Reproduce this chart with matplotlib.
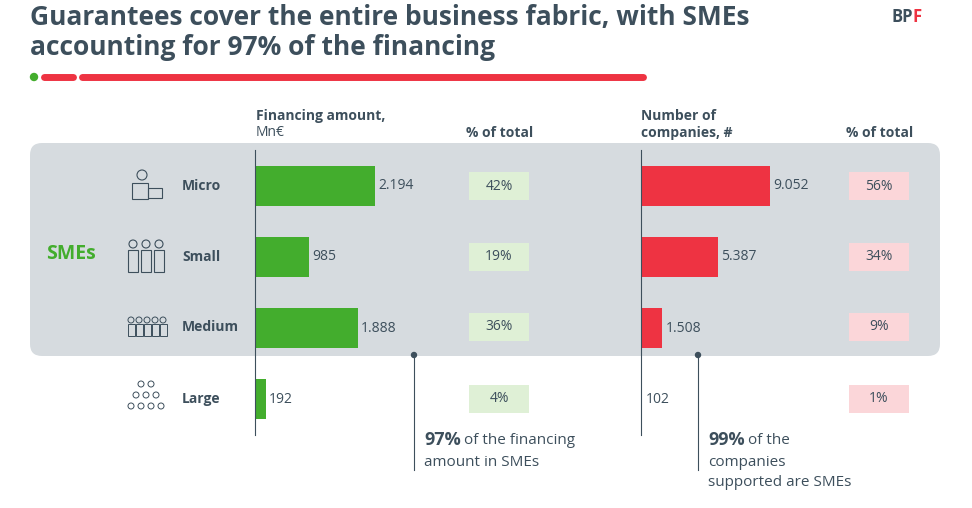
import matplotlib.pyplot as plt
from matplotlib.patches import FancyBboxPatch, Circle, Rectangle

categories = ["Micro", "Small", "Medium", "Large"]
financing = [2194, 985, 1888, 192]
financing_labels = ["2.194", "985", "1.888", "192"]
financing_pct = ["42%", "19%", "36%", "4%"]
companies = [9052, 5387, 1508, 102]
companies_labels = ["9.052", "5.387", "1.508", "102"]
companies_pct = ["56%", "34%", "9%", "1%"]

W, H = 972, 508
DARK = "#3d4f5c"
GREEN = "#43ad2d"
RED = "#ee3342"
plt.rcParams['font.family'] = ['Open Sans', 'DejaVu Sans']

fig = plt.figure(figsize=(W / 100, H / 100), dpi=100)
bg = fig.add_axes([0, 0, 1, 1])
bg.set_xlim(0, W)
bg.set_ylim(H, 0)
bg.axis("off")

bg.text(30, 4, "Guarantees cover the entire business fabric, with SMEs\naccounting for 97% of the financing",
        fontsize=19, fontweight="bold", color=DARK, va="top", linespacing=1.15)
bg.text(913, 17, "BP", fontsize=12, fontweight="bold", color=DARK, ha="right", va="center")
bg.text(912, 17, "F", fontsize=12, fontweight="bold", color=RED, ha="left", va="center")
bg.add_patch(Circle((34, 77), 3.5, color=GREEN))
bg.plot([44, 73], [77, 77], color=RED, lw=5, solid_capstyle="round")
bg.plot([82, 643], [77, 77], color=RED, lw=5, solid_capstyle="round")

bg.add_patch(FancyBboxPatch((30, 143), 910, 213, boxstyle="round,pad=0,rounding_size=12",
                            fc="#d6dbdf", ec="none"))

bg.text(256, 116, "Financing amount,", fontsize=10, fontweight="bold", color=DARK, va="center")
bg.text(256, 133, "Mn€", fontsize=10, color=DARK, va="center")
bg.text(500, 133, "% of total", fontsize=10, fontweight="bold", color=DARK, va="center", ha="center")
bg.text(641, 116, "Number of", fontsize=10, fontweight="bold", color=DARK, va="center")
bg.text(641, 133, "companies, #", fontsize=10, fontweight="bold", color=DARK, va="center")
bg.text(880, 133, "% of total", fontsize=10, fontweight="bold", color=DARK, va="center", ha="center")
bg.text(46, 254, "SMEs", fontsize=14, fontweight="bold", color=GREEN, va="center")

rows = [186, 257, 327, 399]
icons = {"Micro": 1, "Small": 3, "Medium": 5, "Large": 6}
for y, cat, fp, cp in zip(rows, categories, financing_pct, companies_pct):
    bg.text(182, y, cat, fontsize=10, fontweight="bold", color=DARK, va="center")
    bg.add_patch(Rectangle((469, y - 14), 60, 28, fc="#dff0d6", ec="none"))
    bg.text(499, y, fp, fontsize=10, color=DARK, ha="center", va="center")
    bg.add_patch(Rectangle((849, y - 14), 60, 28, fc="#fbd6d9", ec="none"))
    bg.text(879, y, cp, fontsize=10, color=DARK, ha="center", va="center")
    n = icons[cat]
    if n == 1:
        bg.add_patch(Circle((142, y - 11), 5, fc="none", ec=DARK, lw=0.8))
        bg.add_patch(Rectangle((132, y - 3), 16, 16, fc="none", ec=DARK, lw=0.8))
        bg.add_patch(Rectangle((148, y + 2), 14, 10, fc="none", ec=DARK, lw=0.8))
    elif n == 3:
        for k in range(3):
            cx = 133 + k * 13
            bg.add_patch(Circle((cx, y - 13), 4, fc="none", ec=DARK, lw=0.8))
            bg.add_patch(Rectangle((cx - 5, y - 7), 10, 22, fc="none", ec=DARK, lw=0.8))
    elif n == 5:
        for k in range(5):
            cx = 131 + k * 8
            bg.add_patch(Circle((cx, y - 7), 3, fc="none", ec=DARK, lw=0.7))
            bg.add_patch(Rectangle((cx - 3.5, y - 3), 7, 12, fc="none", ec=DARK, lw=0.7))
    else:
        for r, cnt in enumerate([2, 3, 4]):
            for k in range(cnt):
                cx = 146 - (cnt - 1) * 5 + k * 10
                bg.add_patch(Circle((cx, y - 15 + r * 11), 3, fc="none", ec=DARK, lw=0.7))

# callouts
bg.plot([414, 414], [355, 470], color=DARK, lw=0.8)
bg.add_patch(Circle((414, 355), 2.5, color=DARK))
bg.text(424, 440, "97%", fontsize=13, fontweight="bold", color=DARK, va="center")
bg.text(460, 441, " of the financing", fontsize=11, color=DARK, va="center")
bg.text(424, 462, "amount in SMEs", fontsize=11, color=DARK, va="center")
bg.plot([698, 698], [355, 470], color=DARK, lw=0.8)
bg.add_patch(Circle((698, 355), 2.5, color=DARK))
bg.text(708, 440, "99%", fontsize=13, fontweight="bold", color=DARK, va="center")
bg.text(744, 441, " of the", fontsize=11, color=DARK, va="center")
bg.text(708, 462, "companies", fontsize=11, color=DARK, va="center")
bg.text(708, 482, "supported are SMEs", fontsize=11, color=DARK, va="center")


def bar_axes(x0, values, labels, color, px_per_max, vmax):
    ax = fig.add_axes([x0 / W, 1 - 435 / H, 150 / W, 285 / H])
    ax.patch.set_alpha(0)
    ypos = range(len(values))
    ax.barh(ypos, values, height=0.56, color=color)
    ax.set_ylim(3.5, -0.5)
    ax.set_xlim(0, vmax * 150 / px_per_max)
    for y, v, lab in zip(ypos, values, labels):
        ax.text(v + vmax * 3 / px_per_max, y, lab, fontsize=10, color=DARK, va="center")
    for s in ["top", "right", "bottom"]:
        ax.spines[s].set_visible(False)
    ax.spines["left"].set_color(DARK)
    ax.spines["left"].set_linewidth(0.8)
    ax.set_xticks([])
    ax.set_yticks([])


bar_axes(255, financing, financing_labels, GREEN, 120, 2194)
bar_axes(641, companies, companies_labels, RED, 129, 9052)

fig.savefig("out.png", dpi=100)
